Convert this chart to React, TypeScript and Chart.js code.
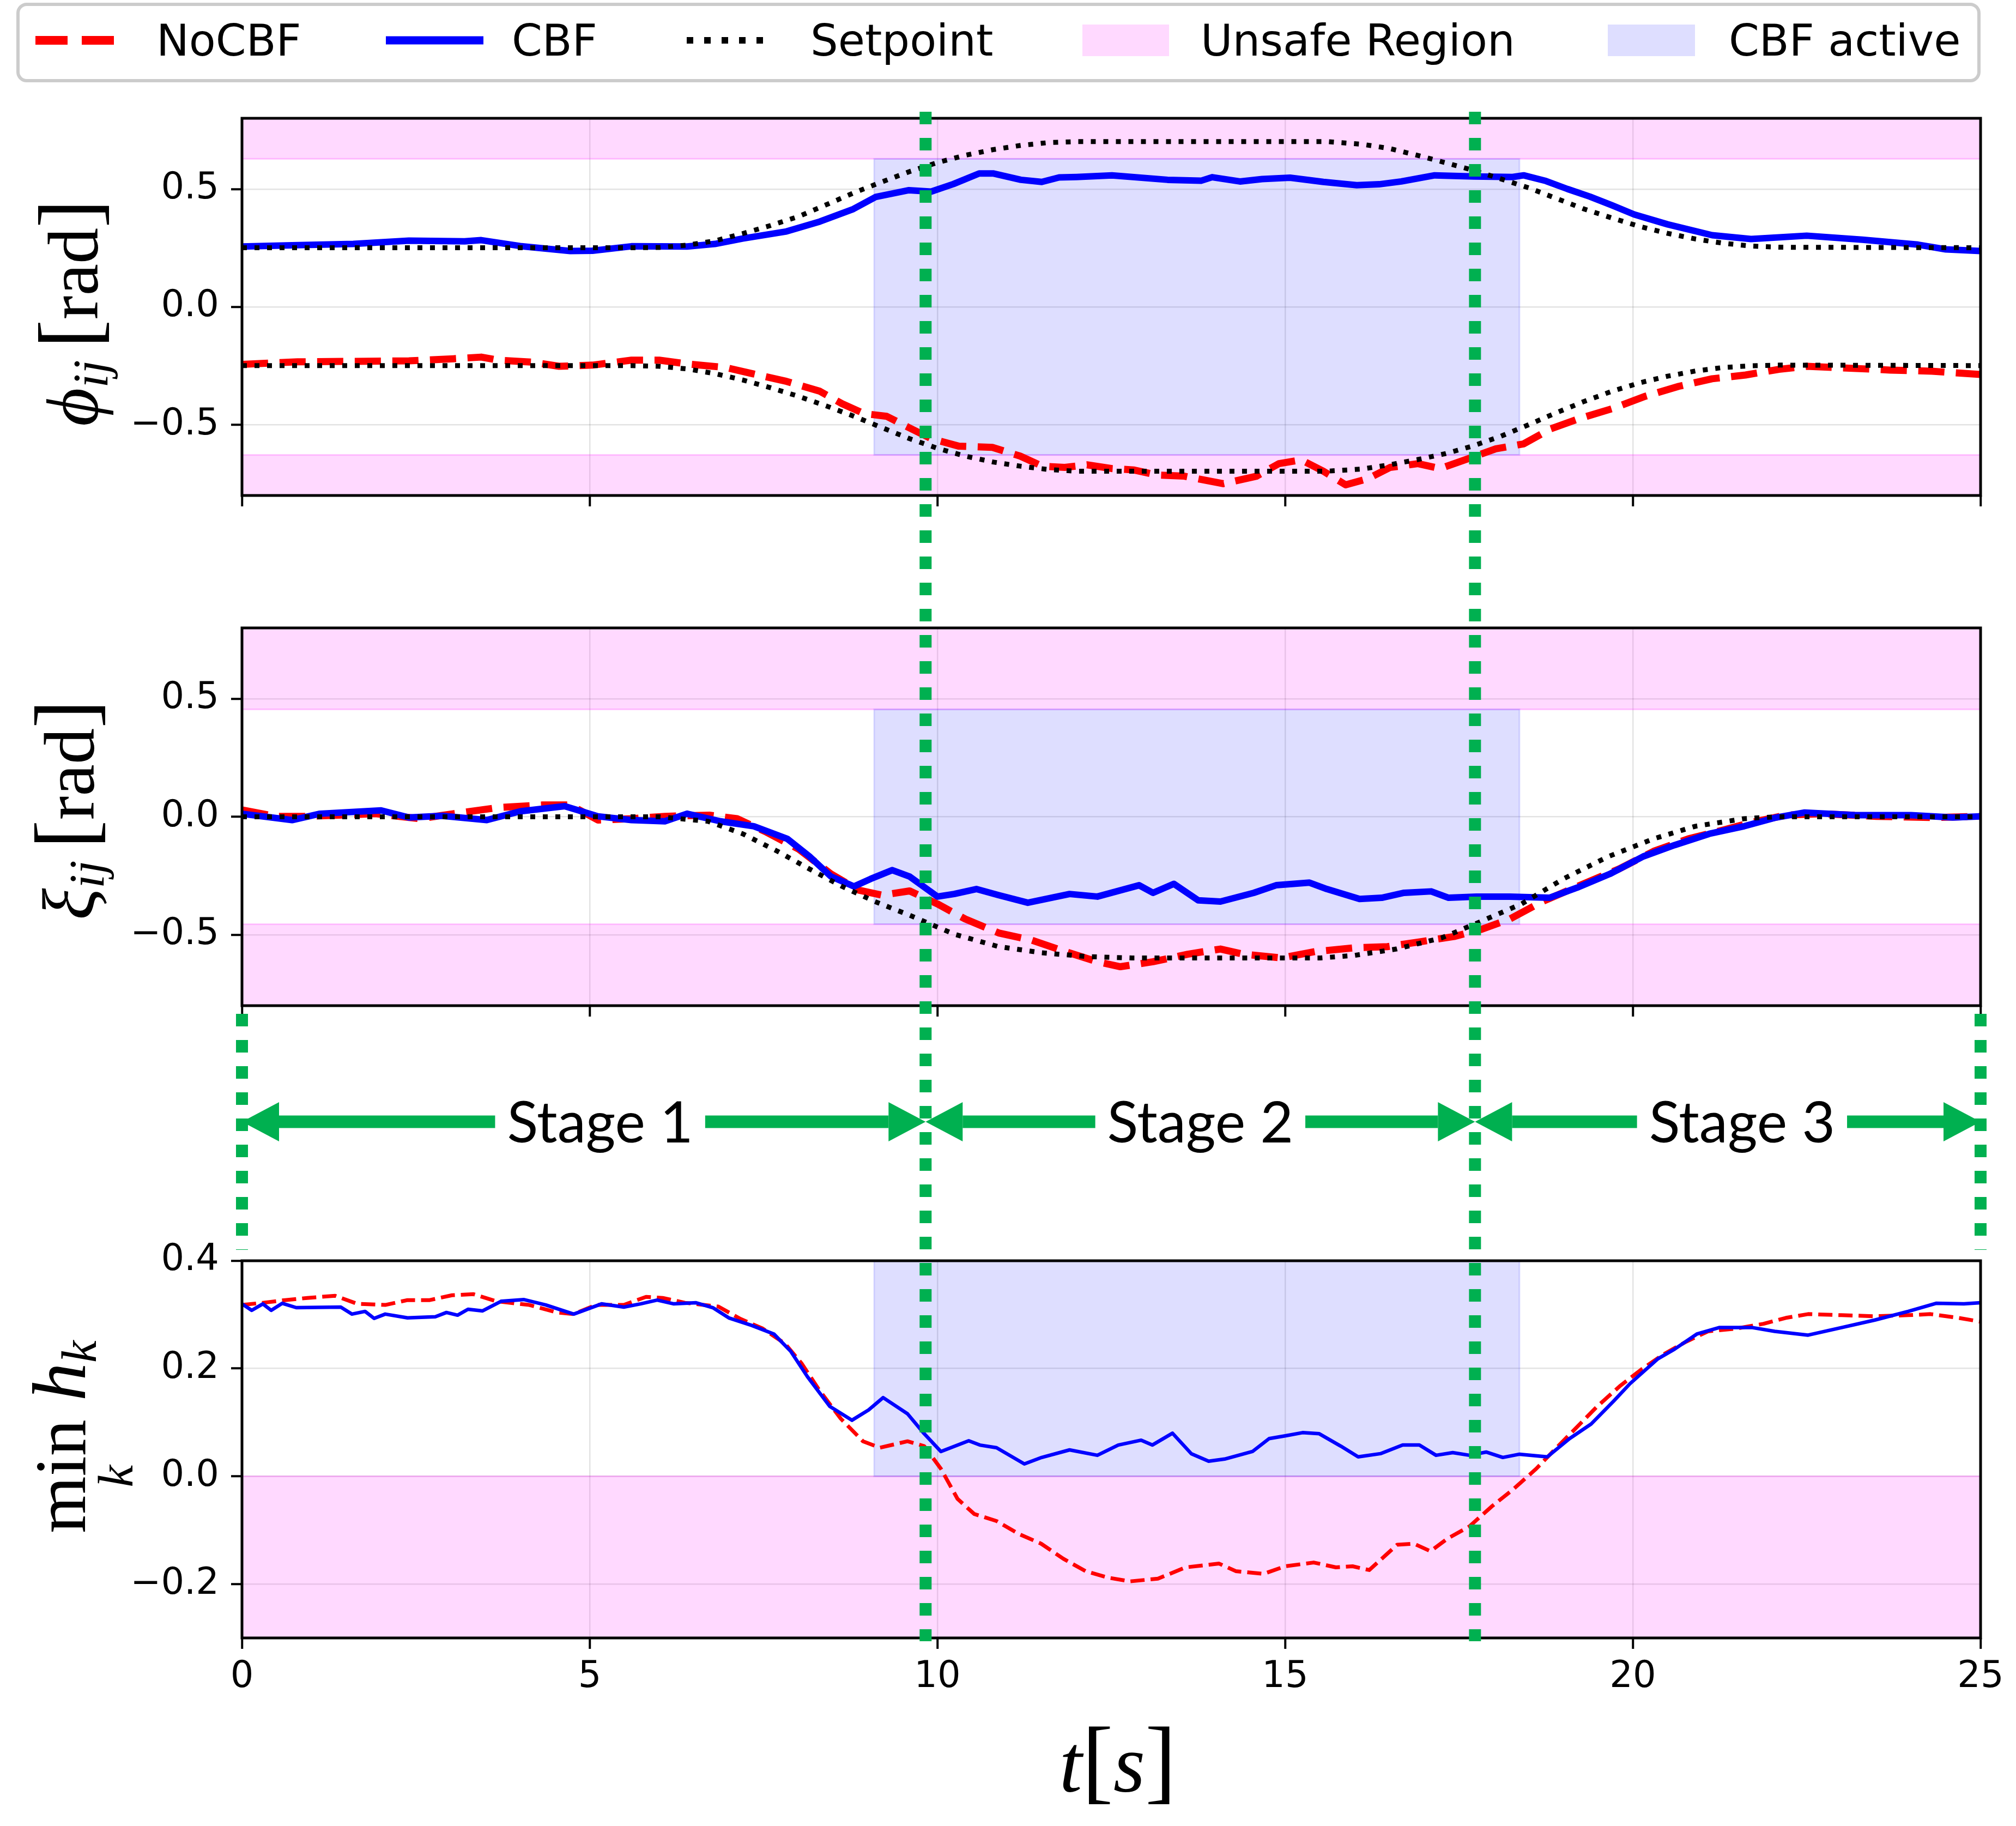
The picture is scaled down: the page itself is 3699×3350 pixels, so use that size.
import React, { useEffect, useRef } from "react";
import { Chart, registerables } from "chart.js";

Chart.register(...registerables);

// ---------------- data ----------------
const X_TICKS = [0, 5, 10, 15, 20, 25];
const X_TICK_LABELS = ["0", "5", "10", "15", "20", "25"];
const PHI_TICKS = [-0.5, 0, 0.5];
const PHI_TICK_LABELS = ["\u22120.5", "0.0", "0.5"];
const XI_TICKS = [-0.5, 0, 0.5];
const XI_TICK_LABELS = ["\u22120.5", "0.0", "0.5"];
const H_TICKS = [-0.2, 0, 0.2, 0.4];
const H_TICK_LABELS = ["\u22120.2", "0.0", "0.2", "0.4"];

const PHI_RANGE = [-0.8, 0.8];
const XI_RANGE = [-0.8, 0.8];
const H_RANGE = [-0.3, 0.4];

const PHI_UNSAFE = 0.628;
const XI_UNSAFE = 0.455;
const H_UNSAFE = 0;
const CBF_ACTIVE = [9.09, 18.37];

const STAGE_BOUNDS = [0, 9.83, 17.73, 25];
const STAGE_LABELS = ["Stage 1", "Stage 2", "Stage 3"];
const STAGE_LABEL_T = [5.15, 13.78, 21.57];

const LEGEND_LABELS = ["NoCBF", "CBF", "Setpoint", "Unsafe Region", "CBF active"];

type P = [number, number];

const PHI_CBF: P[] = [[0,0.256],[0.8,0.262],[1.6,0.267],[2.4,0.281],[3.2,0.278],[3.44,0.283],[4.0,0.258],[4.72,0.237],[5.04,0.238],[5.6,0.257],[6.4,0.256],[6.8,0.267],[7.2,0.29],[7.83,0.32],[8.31,0.362],[8.79,0.415],[9.11,0.466],[9.59,0.495],[9.91,0.489],[10.23,0.521],[10.6,0.566],[10.8,0.566],[11.2,0.539],[11.5,0.53],[11.75,0.549],[12.0,0.551],[12.51,0.558],[13.31,0.539],[13.79,0.535],[13.95,0.55],[14.35,0.532],[14.67,0.542],[15.07,0.548],[15.55,0.53],[16.03,0.516],[16.35,0.52],[16.67,0.532],[17.15,0.558],[17.71,0.553],[18.27,0.551],[18.43,0.558],[18.75,0.534],[19.06,0.5],[19.38,0.468],[19.7,0.431],[20.02,0.392],[20.5,0.35],[21.14,0.304],[21.7,0.288],[22.5,0.302],[23.3,0.285],[24.1,0.264],[24.5,0.244],[25,0.237]];

const PHI_NOCBF: P[] = [[0,-0.244],[0.8,-0.233],[1.6,-0.231],[2.4,-0.229],[3.04,-0.22],[3.44,-0.213],[3.68,-0.226],[4.16,-0.234],[4.56,-0.252],[5.04,-0.247],[5.6,-0.226],[6.0,-0.226],[6.4,-0.242],[6.95,-0.257],[7.35,-0.284],[7.83,-0.316],[8.31,-0.358],[8.63,-0.411],[8.95,-0.453],[9.27,-0.464],[9.59,-0.512],[9.91,-0.559],[10.31,-0.591],[10.79,-0.596],[11.19,-0.633],[11.51,-0.676],[11.83,-0.681],[12.15,-0.67],[12.51,-0.686],[12.83,-0.692],[13.15,-0.713],[13.55,-0.718],[14.11,-0.75],[14.59,-0.718],[14.91,-0.665],[15.23,-0.649],[15.55,-0.697],[15.87,-0.755],[16.19,-0.729],[16.51,-0.681],[16.91,-0.665],[17.23,-0.686],[17.63,-0.644],[18.03,-0.602],[18.43,-0.581],[18.82,-0.517],[19.22,-0.475],[19.7,-0.432],[20.18,-0.379],[20.66,-0.337],[21.14,-0.305],[21.62,-0.289],[22.1,-0.265],[22.5,-0.252],[22.9,-0.257],[23.7,-0.268],[24.3,-0.273],[25,-0.287]];

const PHI_SET_UP: P[] = [[0,0.251],[5.6,0.251],[6.0,0.252],[6.4,0.262],[6.8,0.28],[7.2,0.311],[7.6,0.345],[8.0,0.383],[8.4,0.433],[8.8,0.484],[9.2,0.53],[9.6,0.574],[10.0,0.612],[10.4,0.643],[10.8,0.667],[11.2,0.685],[11.6,0.697],[12.0,0.701],[15.6,0.701],[16.1,0.69],[16.5,0.672],[16.9,0.643],[17.3,0.612],[17.71,0.579],[18.1,0.543],[18.5,0.505],[18.9,0.46],[19.3,0.415],[19.7,0.377],[20.1,0.341],[20.5,0.312],[20.9,0.288],[21.3,0.27],[21.7,0.258],[22.1,0.253],[25,0.251]];

const PHI_SET_DOWN: P[] = [[0,-0.249],[5.6,-0.249],[6.0,-0.252],[6.4,-0.263],[6.8,-0.283],[7.2,-0.31],[7.6,-0.343],[8.0,-0.379],[8.4,-0.42],[8.8,-0.464],[9.2,-0.512],[9.6,-0.559],[10.0,-0.6],[10.4,-0.633],[10.8,-0.658],[11.2,-0.676],[11.6,-0.69],[12.0,-0.697],[15.6,-0.697],[16.1,-0.688],[16.5,-0.67],[16.9,-0.648],[17.3,-0.623],[17.7,-0.59],[18.1,-0.549],[18.5,-0.5],[18.9,-0.449],[19.3,-0.401],[19.7,-0.358],[20.1,-0.322],[20.5,-0.294],[20.9,-0.272],[21.3,-0.257],[21.7,-0.25],[22.1,-0.247],[25,-0.249]];

const XI_CBF: P[] = [[0,0.013],[0.72,-0.014],[1.12,0.013],[2.0,0.027],[2.4,-0.003],[2.88,0.004],[3.52,-0.014],[4.0,0.023],[4.64,0.045],[5.12,0.002],[5.6,-0.014],[6.08,-0.019],[6.4,0.013],[6.88,-0.019],[7.36,-0.04],[7.84,-0.093],[8.16,-0.168],[8.47,-0.253],[8.8,-0.295],[9.04,-0.263],[9.35,-0.226],[9.6,-0.253],[10.0,-0.338],[10.24,-0.327],[10.56,-0.306],[10.88,-0.332],[11.3,-0.364],[11.9,-0.327],[12.3,-0.338],[12.9,-0.29],[13.1,-0.322],[13.4,-0.284],[13.75,-0.354],[14.07,-0.359],[14.55,-0.322],[14.87,-0.29],[15.35,-0.279],[15.6,-0.306],[16.07,-0.348],[16.39,-0.343],[16.71,-0.322],[17.1,-0.316],[17.35,-0.343],[17.75,-0.338],[18.23,-0.338],[18.8,-0.343],[19.2,-0.3],[19.67,-0.242],[20.15,-0.168],[20.6,-0.12],[21.1,-0.072],[21.6,-0.04],[22.06,-0.003],[22.47,0.018],[23.2,0.007],[24.0,0.007],[24.6,-0.003],[25,0.002]];

const XI_NOCBF: P[] = [[0,0.029],[0.48,0.002],[0.96,0.002],[1.92,0.013],[2.56,-0.008],[3.04,0.013],[3.68,0.039],[4.32,0.05],[4.72,0.05],[5.12,-0.014],[5.6,-0.008],[6.08,0.002],[6.72,0.007],[7.12,-0.008],[7.52,-0.062],[8.0,-0.136],[8.47,-0.242],[8.87,-0.311],[9.2,-0.332],[9.6,-0.314],[10.0,-0.369],[10.4,-0.433],[10.88,-0.492],[11.36,-0.523],[11.84,-0.571],[12.3,-0.614],[12.63,-0.635],[13.1,-0.614],[13.6,-0.582],[14.07,-0.56],[14.4,-0.582],[14.95,-0.598],[15.43,-0.571],[16.0,-0.555],[16.47,-0.55],[16.95,-0.529],[17.43,-0.507],[17.83,-0.476],[18.23,-0.433],[18.7,-0.359],[19.2,-0.295],[19.8,-0.221],[20.3,-0.146],[20.8,-0.093],[21.3,-0.056],[21.7,-0.024],[22.2,0.007],[22.7,0.013],[23.5,0.002],[24.3,-0.003],[25,0.002]];

const XI_SET: P[] = [[0,0],[6.0,0],[6.7,-0.019],[7.2,-0.072],[7.7,-0.146],[8.16,-0.221],[8.63,-0.295],[9.1,-0.359],[9.6,-0.417],[10.24,-0.497],[10.88,-0.55],[11.5,-0.576],[12.15,-0.592],[12.8,-0.598],[15.5,-0.598],[16.0,-0.587],[16.6,-0.56],[17.25,-0.513],[17.73,-0.454],[18.4,-0.369],[19.0,-0.263],[19.65,-0.168],[20.3,-0.093],[20.9,-0.04],[21.6,-0.008],[22.05,0],[25,0]];

const H_CBF: P[] = [[0,0.32],[0.14,0.308],[0.3,0.32],[0.42,0.308],[0.58,0.321],[0.78,0.313],[1.42,0.314],[1.58,0.301],[1.77,0.306],[1.9,0.293],[2.06,0.301],[2.38,0.294],[2.78,0.296],[2.94,0.304],[3.1,0.299],[3.25,0.31],[3.46,0.307],[3.73,0.325],[4.05,0.328],[4.37,0.318],[4.77,0.301],[5.17,0.32],[5.49,0.314],[5.73,0.32],[5.97,0.327],[6.21,0.32],[6.53,0.322],[6.77,0.313],[7.0,0.294],[7.33,0.28],[7.65,0.264],[7.89,0.232],[8.13,0.185],[8.45,0.13],[8.77,0.104],[9.01,0.123],[9.22,0.146],[9.57,0.116],[9.81,0.079],[10.05,0.046],[10.45,0.066],[10.61,0.058],[10.85,0.053],[11.25,0.023],[11.5,0.035],[11.9,0.049],[12.3,0.039],[12.6,0.058],[12.93,0.067],[13.09,0.058],[13.38,0.08],[13.65,0.042],[13.9,0.028],[14.13,0.032],[14.53,0.046],[14.77,0.07],[15.0,0.075],[15.25,0.081],[15.49,0.079],[15.8,0.056],[16.05,0.036],[16.37,0.042],[16.69,0.058],[16.93,0.058],[17.17,0.039],[17.41,0.044],[17.65,0.039],[17.89,0.045],[18.13,0.035],[18.37,0.041],[18.77,0.036],[19.09,0.07],[19.4,0.097],[19.72,0.139],[19.96,0.172],[20.36,0.218],[20.6,0.236],[20.92,0.264],[21.24,0.276],[21.72,0.276],[22.04,0.269],[22.52,0.262],[23.0,0.276],[23.48,0.29],[23.96,0.306],[24.36,0.321],[24.76,0.32],[25,0.322]];

const H_NOCBF: P[] = [[0,0.318],[0.3,0.322],[0.62,0.327],[0.94,0.331],[1.34,0.335],[1.66,0.32],[2.06,0.318],[2.38,0.327],[2.7,0.327],[3.02,0.336],[3.33,0.338],[3.65,0.325],[4.13,0.318],[4.53,0.304],[4.77,0.301],[5.09,0.318],[5.49,0.318],[5.81,0.333],[6.05,0.331],[6.37,0.322],[6.85,0.315],[7.17,0.292],[7.49,0.274],[7.81,0.246],[8.05,0.209],[8.29,0.162],[8.61,0.107],[8.93,0.065],[9.17,0.053],[9.57,0.065],[9.81,0.056],[10.05,0.014],[10.29,-0.042],[10.53,-0.07],[10.85,-0.083],[11.17,-0.107],[11.49,-0.125],[11.81,-0.153],[12.13,-0.176],[12.45,-0.188],[12.77,-0.195],[13.17,-0.19],[13.57,-0.169],[14.05,-0.162],[14.29,-0.176],[14.69,-0.181],[15.0,-0.167],[15.41,-0.16],[15.73,-0.169],[15.97,-0.167],[16.21,-0.174],[16.61,-0.127],[16.85,-0.125],[17.09,-0.139],[17.33,-0.116],[17.65,-0.093],[17.97,-0.056],[18.29,-0.023],[18.61,0.014],[18.85,0.046],[19.17,0.088],[19.49,0.13],[19.81,0.167],[20.13,0.199],[20.45,0.227],[20.77,0.25],[21.08,0.269],[21.48,0.274],[21.88,0.283],[22.2,0.294],[22.52,0.301],[23.0,0.299],[23.48,0.297],[23.96,0.299],[24.28,0.301],[24.68,0.294],[25,0.287]];

// ---------------- style / layout ----------------
const W = 3699;
const H = 3350;
const PLOT_LEFT = 444;
const PLOT_RIGHT = 3634;
const RED = "#ff0000";
const BLUE = "#0000ff";
const BLACK = "#000000";
const GREEN = "#00b050";
const UNSAFE_FILL = "rgba(255,0,255,0.15)";
const UNSAFE_EDGE = "rgba(255,0,255,0.2)";
const ACTIVE_FILL = "rgba(0,0,255,0.13)";
const ACTIVE_EDGE = "rgba(0,0,255,0.12)";
const GRID = "rgba(0,0,0,0.11)";
const SANS = "'DejaVu Sans', sans-serif";
const SERIF = "'Liberation Serif', 'Times New Roman', serif";
const OV_TOP = 190;
const OV_H = 2840;

const toXY = (arr: P[]) => arr.map(([x, y]) => ({ x, y }));

type Run = { t: string; f: string; dy?: number; gap?: number; under?: boolean };

function drawRuns(ctx: CanvasRenderingContext2D, runs: Run[]) {
  const widths = runs.map((r) => {
    ctx.font = r.f;
    return ctx.measureText(r.t).width;
  });
  let total = 0;
  runs.forEach((r, i) => {
    if (!r.under) total += widths[i] + (r.gap || 0);
  });
  let x = -total / 2;
  let prevX = x;
  let prevW = 0;
  runs.forEach((r, i) => {
    ctx.font = r.f;
    if (r.under) {
      ctx.fillText(r.t, prevX + prevW / 2 - widths[i] / 2, r.dy || 0);
      return;
    }
    x += r.gap || 0;
    ctx.fillText(r.t, x, r.dy || 0);
    prevX = x;
    prevW = widths[i];
    x += widths[i];
  });
}

function drawVerticalLabel(ctx: CanvasRenderingContext2D, baselineX: number, centerY: number, runs: Run[]) {
  ctx.save();
  ctx.translate(baselineX, centerY);
  ctx.rotate(-Math.PI / 2);
  ctx.fillStyle = "#000";
  ctx.textAlign = "left";
  ctx.textBaseline = "alphabetic";
  drawRuns(ctx, runs);
  ctx.restore();
}

function labelFor(ticks: number[], labels: string[], v: number) {
  const i = ticks.findIndex((t) => Math.abs(t - v) < 1e-9);
  return i >= 0 ? labels[i] : "";
}

type PanelCfg = {
  canvasH: number;
  plotTop: number;
  plotBottom: number;
  yRange: number[];
  yTicks: number[];
  yTickLabels: string[];
  showXLabels: boolean;
  datasets: any[];
  unsafe: (yMin: number, yMax: number) => number[][];
  active: number[];
  extra?: (chart: any) => void;
};

function makePanel(canvas: HTMLCanvasElement, cfg: PanelCfg) {
  const regionPlugin = {
    id: "regions",
    beforeDatasetsDraw(chart: any) {
      const { ctx, chartArea, scales } = chart;
      const x = scales.x;
      const y = scales.y;
      ctx.save();
      ctx.beginPath();
      ctx.rect(chartArea.left, chartArea.top, chartArea.right - chartArea.left, chartArea.bottom - chartArea.top);
      ctx.clip();
      const [ymin, ymax] = cfg.yRange;
      for (const [lo, hi] of cfg.unsafe(ymin, ymax)) {
        const top = y.getPixelForValue(hi);
        const bot = y.getPixelForValue(lo);
        const l = x.getPixelForValue(0);
        const r = x.getPixelForValue(25);
        ctx.fillStyle = UNSAFE_FILL;
        ctx.fillRect(l, top, r - l, bot - top);
        ctx.strokeStyle = UNSAFE_EDGE;
        ctx.lineWidth = 3;
        ctx.strokeRect(l, top, r - l, bot - top);
      }
      {
        const [x0, x1, lo, hi] = cfg.active;
        const l = x.getPixelForValue(x0);
        const r = x.getPixelForValue(x1);
        const top = y.getPixelForValue(hi);
        const bot = y.getPixelForValue(lo);
        ctx.fillStyle = ACTIVE_FILL;
        ctx.fillRect(l, top, r - l, bot - top);
        ctx.strokeStyle = ACTIVE_EDGE;
        ctx.lineWidth = 3;
        ctx.strokeRect(l, top, r - l, bot - top);
      }
      ctx.restore();
    },
    afterDatasetsDraw(chart: any) {
      const { ctx, chartArea } = chart;
      ctx.save();
      ctx.strokeStyle = "#000";
      ctx.lineWidth = 5;
      ctx.strokeRect(chartArea.left, chartArea.top, chartArea.right - chartArea.left, chartArea.bottom - chartArea.top);
      ctx.restore();
    },
    afterDraw(chart: any) {
      if (cfg.extra) cfg.extra(chart);
    },
  };

  return new Chart(canvas, {
    type: "line",
    data: { datasets: cfg.datasets },
    options: {
      animation: false,
      responsive: false,
      devicePixelRatio: 1,
      events: [],
      layout: { padding: { left: 0, right: W - PLOT_RIGHT, top: cfg.plotTop, bottom: 0 } },
      plugins: { legend: { display: false }, tooltip: { enabled: false } },
      elements: { point: { radius: 0 }, line: { tension: 0 } },
      scales: {
        x: {
          type: "linear",
          position: "bottom",
          min: 0,
          max: 25,
          afterBuildTicks: (s: any) => {
            s.ticks = X_TICKS.map((v) => ({ value: v }));
          },
          afterFit: (s: any) => {
            s.height = cfg.canvasH - cfg.plotBottom;
          },
          grid: { color: GRID, lineWidth: 2.5, drawTicks: true, tickLength: 20, tickWidth: 4, tickColor: "#000" },
          border: { display: false },
          ticks: {
            display: cfg.showXLabels,
            autoSkip: false,
            maxRotation: 0,
            minRotation: 0,
            padding: 12,
            color: "#000",
            font: { family: SANS, size: 67 },
            callback: (v: any) => labelFor(X_TICKS, X_TICK_LABELS, Number(v)),
          },
        },
        y: {
          type: "linear",
          position: "left",
          min: cfg.yRange[0],
          max: cfg.yRange[1],
          afterBuildTicks: (s: any) => {
            s.ticks = cfg.yTicks.map((v) => ({ value: v }));
          },
          afterFit: (s: any) => {
            s.width = PLOT_LEFT;
          },
          grid: { color: GRID, lineWidth: 2.5, drawTicks: true, tickLength: 20, tickWidth: 4, tickColor: "#000" },
          border: { display: false },
          ticks: {
            autoSkip: false,
            padding: 22,
            color: "#000",
            font: { family: SANS, size: 67 },
            callback: (v: any) => labelFor(cfg.yTicks, cfg.yTickLabels, Number(v)),
          },
        },
      },
    } as any,
    plugins: [regionPlugin],
  });
}

function lineDs(label: string, pts: P[], color: string, width: number, dash: number[], order: number) {
  return {
    label,
    data: toXY(pts),
    borderColor: color,
    backgroundColor: color,
    borderWidth: width,
    borderDash: dash,
    borderCapStyle: "butt",
    borderJoinStyle: "round",
    pointRadius: 0,
    fill: false,
    order,
  };
}

function drawLegend(chart: any) {
  const ctx: CanvasRenderingContext2D = chart.ctx;
  ctx.save();
  const x0 = 33, y0 = 8, w = 3598, h = 140, r = 16;
  ctx.beginPath();
  ctx.moveTo(x0 + r, y0);
  ctx.arcTo(x0 + w, y0, x0 + w, y0 + h, r);
  ctx.arcTo(x0 + w, y0 + h, x0, y0 + h, r);
  ctx.arcTo(x0, y0 + h, x0, y0, r);
  ctx.arcTo(x0, y0, x0 + w, y0, r);
  ctx.closePath();
  ctx.fillStyle = "#fff";
  ctx.fill();
  ctx.strokeStyle = "#cccccc";
  ctx.lineWidth = 6;
  ctx.stroke();

  const cy = 74;
  const seg = (a: number, b: number, color: string, lw: number, dash: number[]) => {
    ctx.beginPath();
    ctx.setLineDash(dash);
    ctx.lineCap = "butt";
    ctx.strokeStyle = color;
    ctx.lineWidth = lw;
    ctx.moveTo(a, cy);
    ctx.lineTo(b, cy);
    ctx.stroke();
    ctx.setLineDash([]);
  };
  seg(65, 210, RED, 16, [59, 26]);
  seg(708, 887, BLUE, 15, []);
  seg(1260, 1404, BLACK, 12, [12, 20]);
  ctx.fillStyle = UNSAFE_FILL;
  ctx.fillRect(1986, 45, 159, 58);
  ctx.fillStyle = ACTIVE_FILL;
  ctx.fillRect(2950, 45, 160, 58);

  ctx.fillStyle = "#000";
  ctx.font = `80px ${SANS}`;
  ctx.textAlign = "left";
  ctx.textBaseline = "alphabetic";
  const xs = [287, 939, 1487, 2203, 3172];
  LEGEND_LABELS.forEach((t, i) => ctx.fillText(t, xs[i], 102));
  ctx.restore();
}

function makeOverlay(canvas: HTMLCanvasElement) {
  const spans = [
    [1670, 2103],
    [15, 2821],
    [15, 2821],
    [1670, 2103],
  ];
  const datasets = STAGE_BOUNDS.map((b, i) => ({
    data: [
      { x: b, y: spans[i][0] },
      { x: b, y: spans[i][1] },
    ],
    borderColor: GREEN,
    borderWidth: 22,
    borderDash: [23, 25],
    borderCapStyle: "butt",
    pointRadius: 0,
    fill: false,
    clip: false,
  }));
  const stagePlugin = {
    id: "stages",
    beforeDatasetsDraw(chart: any) {
      const { ctx, scales } = chart;
      const x = scales.x;
      const yy = scales.y.getPixelForValue(2058 - OV_TOP);
      const PAD = 22;
      const HEAD_L = 68;
      const HEAD_W = 36;
      const SHAFT = 23;
      ctx.save();
      const arrow = (from: number, to: number) => {
        const s = Math.sign(to - from);
        ctx.strokeStyle = GREEN;
        ctx.lineWidth = SHAFT;
        ctx.lineCap = "butt";
        ctx.beginPath();
        ctx.moveTo(from, yy);
        ctx.lineTo(to - s * HEAD_L, yy);
        ctx.stroke();
        ctx.fillStyle = GREEN;
        ctx.beginPath();
        ctx.moveTo(to, yy);
        ctx.lineTo(to - s * HEAD_L, yy - HEAD_W);
        ctx.lineTo(to - s * HEAD_L, yy + HEAD_W);
        ctx.closePath();
        ctx.fill();
      };
      ctx.font = "105px Lato, 'Open Sans', sans-serif";
      STAGE_LABELS.forEach((lab, i) => {
        const a = x.getPixelForValue(STAGE_BOUNDS[i]);
        const b = x.getPixelForValue(STAGE_BOUNDS[i + 1]);
        const c = x.getPixelForValue(STAGE_LABEL_T[i]);
        const w = ctx.measureText(lab).width;
        arrow(c - w / 2 - PAD, a);
        arrow(c + w / 2 + PAD, b);
        ctx.fillStyle = "#000";
        ctx.textAlign = "center";
        ctx.textBaseline = "alphabetic";
        ctx.fillText(lab, c, yy + 38);
      });
      ctx.restore();
    },
  };
  return new Chart(canvas, {
    type: "line",
    data: { datasets },
    options: {
      animation: false,
      responsive: false,
      devicePixelRatio: 1,
      events: [],
      layout: { padding: { left: PLOT_LEFT, right: W - PLOT_RIGHT, top: 0, bottom: 0 } },
      plugins: { legend: { display: false }, tooltip: { enabled: false } },
      scales: {
        x: { type: "linear", min: 0, max: 25, display: false },
        y: { type: "linear", min: 0, max: OV_H, reverse: true, display: false },
      },
    } as any,
    plugins: [stagePlugin],
  });
}

export default function App() {
  const aRef = useRef<HTMLCanvasElement>(null);
  const bRef = useRef<HTMLCanvasElement>(null);
  const cRef = useRef<HTMLCanvasElement>(null);
  const oRef = useRef<HTMLCanvasElement>(null);

  useEffect(() => {
    const it = `italic 136px ${SERIF}`;
    const up = `132px ${SERIF}`;
    const br = `156px ${SERIF}`;
    const sub = `italic 92px ${SERIF}`;

    const chartA = makePanel(aRef.current!, {
      canvasH: 1000,
      plotTop: 217,
      plotBottom: 909,
      yRange: PHI_RANGE,
      yTicks: PHI_TICKS,
      yTickLabels: PHI_TICK_LABELS,
      showXLabels: false,
      datasets: [
        lineDs("NoCBF", PHI_NOCBF, RED, 13, [48, 21], 3),
        lineDs("CBF", PHI_CBF, BLUE, 12, [], 2),
        lineDs("Setpoint", PHI_SET_UP, BLACK, 9, [9, 14], 1),
        lineDs("Setpoint", PHI_SET_DOWN, BLACK, 9, [9, 14], 1),
      ],
      unsafe: (lo, hi) => [[PHI_UNSAFE, hi], [lo, -PHI_UNSAFE]],
      active: [CBF_ACTIVE[0], CBF_ACTIVE[1], -PHI_UNSAFE, PHI_UNSAFE],
      extra: (chart) => {
        drawLegend(chart);
        drawVerticalLabel(chart.ctx, 179, 574, [
          { t: "\u03D5", f: it },
          { t: "ij", f: sub, dy: 18 },
          { t: "[", f: br, gap: 22 },
          { t: "rad", f: up },
          { t: "]", f: br },
        ]);
      },
    });

    const chartB = makePanel(bRef.current!, {
      canvasH: 960,
      plotTop: 152,
      plotBottom: 845,
      yRange: XI_RANGE,
      yTicks: XI_TICKS,
      yTickLabels: XI_TICK_LABELS,
      showXLabels: false,
      datasets: [
        lineDs("NoCBF", XI_NOCBF, RED, 13, [48, 21], 3),
        lineDs("CBF", XI_CBF, BLUE, 12, [], 2),
        lineDs("Setpoint", XI_SET, BLACK, 9, [9, 14], 1),
      ],
      unsafe: (lo, hi) => [[XI_UNSAFE, hi], [lo, -XI_UNSAFE]],
      active: [CBF_ACTIVE[0], CBF_ACTIVE[1], -XI_UNSAFE, XI_UNSAFE],
      extra: (chart) => {
        drawVerticalLabel(chart.ctx, 172, 486, [
          { t: "\u03BE", f: it },
          { t: "ij", f: sub, dy: 18 },
          { t: "[", f: br, gap: 22 },
          { t: "rad", f: up },
          { t: "]", f: br },
        ]);
      },
    });

    const chartC = makePanel(cRef.current!, {
      canvasH: 1390,
      plotTop: 353,
      plotBottom: 1045,
      yRange: H_RANGE,
      yTicks: H_TICKS,
      yTickLabels: H_TICK_LABELS,
      showXLabels: true,
      datasets: [
        lineDs("NoCBF", H_NOCBF, RED, 7, [26, 11], 3),
        lineDs("CBF", H_CBF, BLUE, 6.5, [], 2),
      ],
      unsafe: (lo) => [[lo, H_UNSAFE]],
      active: [CBF_ACTIVE[0], CBF_ACTIVE[1], H_UNSAFE, H_RANGE[1]],
      extra: (chart) => {
        const ctx: CanvasRenderingContext2D = chart.ctx;
        drawVerticalLabel(ctx, 156, 676, [
          { t: "min", f: `134px ${SERIF}` },
          { t: "k", f: sub, dy: 87, under: true },
          { t: "h", f: `italic 140px ${SERIF}`, gap: 34 },
          { t: "k", f: sub, dy: 20 },
        ]);
        ctx.save();
        ctx.translate(2051, 1327);
        ctx.fillStyle = "#000";
        ctx.textAlign = "left";
        ctx.textBaseline = "alphabetic";
        drawRuns(ctx, [
          { t: "t", f: `italic 150px ${SERIF}` },
          { t: "[", f: `172px ${SERIF}` },
          { t: "s", f: `italic 150px ${SERIF}` },
          { t: "]", f: `172px ${SERIF}` },
        ]);
        ctx.restore();
      },
    });

    const chartO = makeOverlay(oRef.current!);

    return () => {
      chartA.destroy();
      chartB.destroy();
      chartC.destroy();
      chartO.destroy();
    };
  }, []);

  const cs = (top: number, h: number): React.CSSProperties => ({
    position: "absolute",
    left: 0,
    top,
    width: W,
    height: h,
  });

  return (
    <div style={{ position: "absolute", left: 0, top: 0, width: W, height: H, background: "#fff", overflow: "hidden" }}>
      <canvas ref={aRef} width={W} height={1000} style={cs(0, 1000)} />
      <canvas ref={bRef} width={W} height={960} style={cs(1000, 960)} />
      <canvas ref={cRef} width={W} height={1390} style={cs(1960, 1390)} />
      <canvas ref={oRef} width={W} height={OV_H} style={{ ...cs(OV_TOP, OV_H), pointerEvents: "none" }} />
    </div>
  );
}
